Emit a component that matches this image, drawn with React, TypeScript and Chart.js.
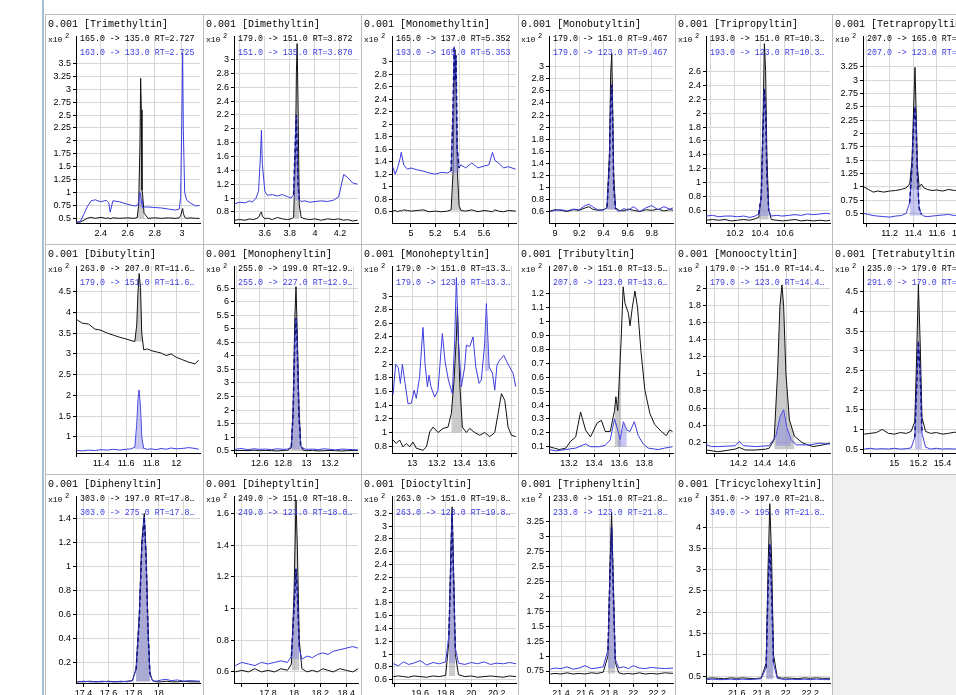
import React, { useEffect, useRef } from "react";
import { Chart, registerables } from "chart.js";
Chart.register(...registerables);

const MONO = '"Liberation Mono", "DejaVu Sans Mono", monospace';
const SANS = '"Liberation Sans", Arial, sans-serif';
const BLUE = "#3c3ce0";
const NAVY = "#14147a";
const BLACK = "#111111";
const GRID = "#d6d6d6";
const GRAY_FILL = "rgba(160,160,160,0.55)";
const BLUE_FILL = "rgba(130,130,225,0.45)";

// ---------- Panel 1: Trimethyltin ----------
const P1_X = [2.22, 2.25, 2.28, 2.30, 2.33, 2.36, 2.40, 2.44, 2.46, 2.47, 2.49, 2.54, 2.60, 2.65, 2.67, 2.68, 2.69, 2.695, 2.70, 2.705, 2.71, 2.72, 2.75, 2.80, 2.85, 2.90, 2.95, 2.98, 2.99, 3.00, 3.005, 3.01, 3.02, 3.035, 3.06, 3.10, 3.13];
const P1_BLACK = [0.42, 0.43, 0.47, 0.5, 0.52, 0.5, 0.52, 0.5, 0.51, 0.49, 0.51, 0.5, 0.51, 0.5, 0.52, 0.75, 1.9, 3.21, 2.6, 1.05, 0.95, 0.6, 0.5, 0.51, 0.5, 0.51, 0.5, 0.51, 0.55, 0.65, 0.69, 0.6, 0.52, 0.5, 0.51, 0.5, 0.5];
const P1_BLUE = [0.42, 0.44, 0.6, 0.72, 0.84, 0.86, 0.82, 0.85, 0.8, 0.62, 0.84, 0.82, 0.77, 0.74, 0.75, 0.8, 1.0, 0.95, 0.85, 0.78, 0.7, 0.72, 0.72, 0.71, 0.7, 0.68, 0.66, 0.68, 0.9, 2.6, 3.7, 2.2, 1.0, 0.85, 0.8, 0.74, 0.75];
const P1_XT = [2.4, 2.6, 2.8, 3];
const P1_XL = ["2.4", "2.6", "2.8", "3"];
const P1_YT = ["0.5", "0.75", "1", "1.25", "1.5", "1.75", "2", "2.25", "2.5", "2.75", "3", "3.25", "3.5"];

// ---------- Panel 2: Dimethyltin ----------
const P2_X = [3.36, 3.40, 3.44, 3.48, 3.50, 3.53, 3.55, 3.565, 3.573, 3.58, 3.60, 3.62, 3.66, 3.70, 3.74, 3.78, 3.81, 3.83, 3.845, 3.852, 3.858, 3.865, 3.875, 3.89, 3.92, 3.96, 4.00, 4.05, 4.10, 4.15, 4.19, 4.23, 4.26, 4.30, 4.34];
const P2_BLACK = [0.68, 0.69, 0.68, 0.7, 0.69, 0.7, 0.72, 0.78, 0.8, 0.74, 0.7, 0.71, 0.69, 0.72, 0.7, 0.69, 0.7, 0.72, 1.6, 2.8, 3.23, 2.4, 0.9, 0.72, 0.7, 0.69, 0.7, 0.68, 0.7, 0.69, 0.7, 0.68, 0.69, 0.67, 0.68];
const P2_BLUE = [0.92, 0.94, 0.93, 0.96, 0.94, 1.0, 1.1, 1.6, 1.98, 1.5, 1.1, 1.04, 1.05, 1.03, 1.05, 1.02, 1.0, 1.05, 1.9, 2.2, 1.7, 1.2, 0.98, 0.95, 0.96, 0.94, 0.95, 0.96, 0.95, 0.97, 1.02, 1.34, 1.3, 1.22, 1.2];
const P2_XT = [3.4, 3.6, 3.8, 4, 4.2];
const P2_XL = ["", "3.6", "3.8", "4", "4.2"];
const P2_YT = ["0.8", "1", "1.2", "1.4", "1.6", "1.8", "2", "2.2", "2.4", "2.6", "2.8", "3"];

// ---------- Panel 3: Monomethyltin ----------
const P3_X = [4.85, 4.87, 4.89, 4.91, 4.92, 4.94, 4.97, 5.00, 5.05, 5.10, 5.15, 5.20, 5.25, 5.30, 5.33, 5.345, 5.355, 5.362, 5.37, 5.38, 5.395, 5.41, 5.45, 5.50, 5.55, 5.60, 5.64, 5.67, 5.69, 5.72, 5.76, 5.80, 5.86];
const P3_BLACK = [0.61, 0.62, 0.6, 0.62, 0.61, 0.63, 0.62, 0.61, 0.62, 0.63, 0.6, 0.61, 0.6, 0.61, 0.63, 1.2, 2.6, 3.19, 2.5, 1.3, 0.7, 0.62, 0.61, 0.63, 0.6, 0.62, 0.61, 0.6, 0.63, 0.61, 0.6, 0.62, 0.61];
const P3_BLUE = [1.32, 1.2, 1.3, 1.45, 1.55, 1.35, 1.28, 1.3, 1.27, 1.25, 1.22, 1.2, 1.23, 1.22, 1.25, 2.2, 3.24, 2.7, 3.1, 1.6, 1.3, 1.35, 1.3, 1.38, 1.3, 1.33, 1.35, 1.55, 1.42, 1.38, 1.3, 1.32, 1.28];
const P3_XT = [5, 5.2, 5.4, 5.6, 5.8];
const P3_XL = ["5", "5.2", "5.4", "5.6", ""];
const P3_YT = ["0.6", "0.8", "1", "1.2", "1.4", "1.6", "1.8", "2", "2.2", "2.4", "2.6", "2.8", "3"];

// ---------- Panel 4: Monobutyltin ----------
const P4_X = [8.96, 9.0, 9.05, 9.1, 9.15, 9.2, 9.25, 9.28, 9.31, 9.35, 9.4, 9.43, 9.45, 9.46, 9.469, 9.475, 9.485, 9.5, 9.53, 9.57, 9.6, 9.65, 9.7, 9.75, 9.8, 9.85, 9.9, 9.95, 9.975];
const P4_BLACK = [0.61, 0.63, 0.62, 0.6, 0.63, 0.62, 0.66, 0.68, 0.64, 0.62, 0.63, 0.66, 1.6, 2.9, 3.22, 2.5, 1.2, 0.66, 0.62, 0.61, 0.64, 0.62, 0.6, 0.63, 0.62, 0.64, 0.61, 0.63, 0.62];
const P4_BLUE = [0.6, 0.62, 0.63, 0.61, 0.64, 0.63, 0.7, 0.72, 0.68, 0.63, 0.62, 0.68, 1.4, 2.4, 2.7, 2.2, 1.0, 0.64, 0.6, 0.65, 0.62, 0.68, 0.6, 0.66, 0.7, 0.63, 0.68, 0.64, 0.66];
const P4_XT = [9, 9.2, 9.4, 9.6, 9.8];
const P4_XL = ["9", "9.2", "9.4", "9.6", "9.8"];
const P4_YT = ["0.6", "0.8", "1", "1.2", "1.4", "1.6", "1.8", "2", "2.2", "2.4", "2.6", "2.8", "3"];

// ---------- Panel 5: Tripropyltin ----------
const P5_X = [9.97, 10.02, 10.07, 10.12, 10.17, 10.22, 10.27, 10.32, 10.36, 10.39, 10.41, 10.425, 10.435, 10.445, 10.455, 10.47, 10.49, 10.53, 10.58, 10.63, 10.68, 10.73, 10.78, 10.83, 10.88, 10.93, 10.96];
const P5_BLACK = [0.46, 0.47, 0.46, 0.47, 0.45, 0.46, 0.47, 0.46, 0.48, 0.5, 0.8, 2.0, 3.0, 2.6, 1.4, 0.6, 0.47, 0.46, 0.45, 0.46, 0.47, 0.45, 0.46, 0.45, 0.46, 0.45, 0.46];
const P5_BLUE = [0.52, 0.53, 0.51, 0.52, 0.52, 0.51, 0.52, 0.5, 0.52, 0.55, 0.8, 1.8, 2.35, 2.0, 1.1, 0.6, 0.52, 0.53, 0.52, 0.53, 0.54, 0.53, 0.55, 0.54, 0.55, 0.56, 0.55];
const P5_XT = [10, 10.2, 10.4, 10.6, 10.8];
const P5_XL = ["", "10.2", "10.4", "10.6", ""];
const P5_YT = ["0.6", "0.8", "1", "1.2", "1.4", "1.6", "1.8", "2", "2.2", "2.4", "2.6"];

// ---------- Panel 6: Tetrapropyltin ----------
const P6_X = [10.98, 11.02, 11.06, 11.1, 11.15, 11.2, 11.25, 11.3, 11.34, 11.37, 11.39, 11.405, 11.415, 11.425, 11.435, 11.45, 11.47, 11.49, 11.52, 11.56, 11.6, 11.65, 11.7, 11.75, 11.8, 11.9, 12.0];
const P6_BLACK = [1.0, 0.95, 0.9, 0.92, 0.9, 0.92, 0.93, 0.95, 0.98, 1.05, 1.5, 2.6, 3.24, 2.4, 1.4, 1.0, 1.05, 0.98, 0.95, 0.93, 0.94, 0.92, 0.95, 0.93, 0.94, 0.92, 0.93];
const P6_BLUE = [0.5, 0.48, 0.46, 0.45, 0.44, 0.43, 0.45, 0.46, 0.5, 0.7, 1.4, 2.2, 2.5, 2.1, 1.2, 0.6, 0.48, 0.45, 0.44, 0.45, 0.46, 0.47, 0.48, 0.46, 0.47, 0.46, 0.47];
const P6_XT = [11, 11.2, 11.4, 11.6, 11.8, 12];
const P6_XL = ["", "11.2", "11.4", "11.6", "11.8", "12"];
const P6_YT = ["0.5", "0.75", "1", "1.25", "1.5", "1.75", "2", "2.25", "2.5", "2.75", "3", "3.25"];

// ---------- Panel 7: Dibutyltin ----------
const P7_X = [11.21, 11.25, 11.3, 11.35, 11.4, 11.45, 11.5, 11.55, 11.6, 11.64, 11.67, 11.685, 11.695, 11.704, 11.715, 11.725, 11.74, 11.77, 11.8, 11.84, 11.88, 11.92, 11.96, 12.0, 12.05, 12.1, 12.15, 12.18];
const P7_BLACK = [3.82, 3.74, 3.72, 3.6, 3.57, 3.5, 3.45, 3.4, 3.36, 3.32, 3.3, 3.7, 4.5, 4.94, 4.6, 3.5, 3.1, 3.12, 3.08, 3.05, 3.02, 2.96, 3.0, 2.92, 2.86, 2.8, 2.76, 2.85];
const P7_BLUE = [0.67, 0.66, 0.68, 0.67, 0.69, 0.68, 0.7, 0.68, 0.7, 0.71, 0.75, 1.3, 1.9, 2.13, 1.7, 1.0, 0.72, 0.7, 0.71, 0.69, 0.72, 0.7, 0.73, 0.71, 0.72, 0.74, 0.72, 0.7];
const P7_XT = [11.2, 11.4, 11.6, 11.8, 12];
const P7_XL = ["", "11.4", "11.6", "11.8", "12"];
const P7_YT = ["1", "1.5", "2", "2.5", "3", "3.5", "4", "4.5"];

// ---------- Panel 8: Monophenyltin ----------
const P8_X = [12.39, 12.44, 12.5, 12.55, 12.6, 12.65, 12.7, 12.75, 12.8, 12.84, 12.87, 12.885, 12.9, 12.91, 12.92, 12.935, 12.95, 12.97, 13.0, 13.05, 13.1, 13.15, 13.2, 13.25, 13.3, 13.35, 13.4, 13.44];
const P8_BLACK = [0.5, 0.51, 0.5, 0.52, 0.5, 0.51, 0.5, 0.49, 0.51, 0.52, 0.6, 2.0, 5.4, 6.56, 5.0, 2.2, 0.7, 0.52, 0.5, 0.51, 0.49, 0.5, 0.51, 0.5, 0.49, 0.5, 0.51, 0.5];
const P8_BLUE = [0.55, 0.58, 0.54, 0.57, 0.55, 0.56, 0.54, 0.57, 0.55, 0.56, 0.65, 1.8, 4.6, 5.4, 4.4, 1.8, 0.7, 0.58, 0.55, 0.56, 0.54, 0.57, 0.55, 0.53, 0.56, 0.55, 0.54, 0.53];
const P8_XT = [12.4, 12.6, 12.8, 13, 13.2, 13.4];
const P8_XL = ["", "12.6", "12.8", "13", "13.2", ""];
const P8_YT = ["0.5", "1", "1.5", "2", "2.5", "3", "3.5", "4", "4.5", "5", "5.5", "6", "6.5"];

// ---------- Panel 9: Monoheptyltin ----------
const P9_BX = [12.843, 12.87, 12.897, 12.924, 12.951, 12.978, 13.005, 13.032, 13.086, 13.114, 13.141, 13.168, 13.208, 13.249, 13.289, 13.316, 13.338, 13.357, 13.365, 13.373, 13.384, 13.405, 13.438, 13.465, 13.505, 13.546, 13.586, 13.627, 13.668, 13.695, 13.722, 13.749, 13.776, 13.803, 13.838];
const P9_BLACK = [0.89, 0.84, 0.89, 0.79, 0.84, 0.79, 0.86, 0.77, 0.74, 0.79, 1.01, 1.08, 1.0, 1.06, 1.08, 1.28, 1.77, 2.4, 2.84, 2.4, 1.72, 1.08, 1.0, 1.06, 1.0, 0.96, 1.0, 0.94, 1.0, 1.28, 1.57, 1.47, 1.08, 0.96, 0.94];
const P9_UX = [12.843, 12.865, 12.886, 12.903, 12.919, 12.941, 12.965, 12.992, 13.014, 13.032, 13.059, 13.086, 13.103, 13.122, 13.135, 13.151, 13.181, 13.208, 13.243, 13.265, 13.292, 13.324, 13.343, 13.357, 13.373, 13.397, 13.424, 13.438, 13.465, 13.492, 13.514, 13.541, 13.559, 13.586, 13.6, 13.622, 13.649, 13.668, 13.686, 13.708, 13.741, 13.776, 13.816, 13.838];
const P9_BLUE = [1.55, 2.0, 1.95, 1.72, 2.0, 1.72, 1.42, 1.43, 1.62, 1.5, 1.82, 2.54, 2.0, 1.67, 1.84, 1.67, 1.52, 1.62, 2.45, 2.04, 1.77, 1.57, 2.35, 3.27, 2.35, 1.67, 1.96, 2.28, 2.26, 2.4, 1.96, 1.72, 1.77, 2.3, 2.89, 1.96, 1.87, 1.62, 1.99, 2.06, 2.13, 2.0, 1.87, 1.67];
const P9_XT = [13, 13.2, 13.4, 13.6, 13.8];
const P9_XL = ["13", "13.2", "13.4", "13.6", ""];
const P9_YT = ["0.8", "1", "1.2", "1.4", "1.6", "1.8", "2", "2.2", "2.4", "2.6", "2.8", "3"];

// ---------- Panel 10: Tributyltin ----------
const P10_BX = [13.042, 13.082, 13.121, 13.174, 13.213, 13.253, 13.292, 13.332, 13.371, 13.424, 13.458, 13.489, 13.529, 13.563, 13.574, 13.589, 13.616, 13.632, 13.647, 13.674, 13.687, 13.705, 13.726, 13.747, 13.774, 13.805, 13.845, 13.884, 13.937, 13.976, 14.003, 14.026];
const P10_BLACK = [0.1, 0.09, 0.08, 0.09, 0.14, 0.17, 0.35, 0.22, 0.17, 0.27, 0.29, 0.21, 0.21, 0.36, 0.46, 0.36, 0.87, 1.25, 1.13, 1.06, 0.97, 1.1, 1.22, 1.1, 0.79, 0.51, 0.34, 0.26, 0.21, 0.18, 0.22, 0.21];
const P10_UX = [13.042, 13.095, 13.174, 13.253, 13.305, 13.332, 13.371, 13.437, 13.489, 13.529, 13.563, 13.589, 13.608, 13.634, 13.661, 13.687, 13.721, 13.753, 13.792, 13.832, 13.911, 13.963, 14.026];
const P10_BLUE = [0.08, 0.07, 0.08, 0.09, 0.11, 0.12, 0.1, 0.1, 0.11, 0.15, 0.3, 0.22, 0.15, 0.28, 0.22, 0.21, 0.28, 0.18, 0.12, 0.09, 0.08, 0.09, 0.1];
const P10_XT = [13.2, 13.4, 13.6, 13.8, 14];
const P10_XL = ["13.2", "13.4", "13.6", "13.8", ""];
const P10_YT = ["0.1", "0.2", "0.3", "0.4", "0.5", "0.6", "0.7", "0.8", "0.9", "1", "1.1", "1.2"];

// ---------- Panel 11: Monooctyltin ----------
const P11_BX = [13.932, 14.031, 14.172, 14.206, 14.256, 14.341, 14.425, 14.454, 14.496, 14.524, 14.544, 14.561, 14.575, 14.594, 14.623, 14.665, 14.735, 14.82, 14.904, 14.96];
const P11_BLACK = [0.11, 0.09, 0.12, 0.14, 0.11, 0.11, 0.12, 0.13, 0.23, 1.0, 1.79, 2.04, 1.79, 1.0, 0.46, 0.27, 0.19, 0.15, 0.17, 0.19];
const P11_UX = [13.932, 13.975, 14.031, 14.172, 14.206, 14.242, 14.341, 14.454, 14.51, 14.546, 14.575, 14.6, 14.637, 14.679, 14.792, 14.876, 14.932, 14.96];
const P11_BLUE = [0.17, 0.15, 0.15, 0.16, 0.21, 0.16, 0.15, 0.16, 0.27, 0.5, 0.58, 0.38, 0.23, 0.17, 0.17, 0.19, 0.18, 0.18];
const P11_XT = [14, 14.2, 14.4, 14.6, 14.8];
const P11_XL = ["", "14.2", "14.4", "14.6", ""];
const P11_YT = ["0.2", "0.4", "0.6", "0.8", "1", "1.2", "1.4", "1.6", "1.8", "2"];

// ---------- Panel 12: Tetrabutyltin ----------
const P12_X = [14.75, 14.8, 14.85, 14.9, 14.95, 15.0, 15.05, 15.1, 15.14, 15.17, 15.185, 15.2, 15.215, 15.23, 15.26, 15.3, 15.35, 15.4, 15.45, 15.5, 15.55, 15.6, 15.65, 15.7, 15.77];
const P12_BLACK = [0.88, 0.9, 0.92, 1.0, 0.9, 0.88, 0.92, 0.9, 0.95, 1.2, 2.8, 4.7, 3.2, 1.3, 0.95, 0.9, 0.92, 0.88, 0.9, 0.93, 0.9, 0.88, 0.9, 0.92, 0.9];
const P12_BLUE = [0.5, 0.52, 0.5, 0.51, 0.5, 0.52, 0.5, 0.51, 0.53, 0.8, 2.0, 3.25, 2.4, 0.9, 0.55, 0.5, 0.52, 0.5, 0.51, 0.5, 0.52, 0.5, 0.51, 0.5, 0.5];
const P12_XT = [14.8, 15, 15.2, 15.4, 15.6];
const P12_XL = ["", "15", "15.2", "15.4", "15.6"];
const P12_YT = ["0.5", "1", "1.5", "2", "2.5", "3", "3.5", "4", "4.5"];

// ---------- Panel 13: Diphenyltin ----------
const P13_X = [17.35, 17.4, 17.45, 17.5, 17.55, 17.6, 17.65, 17.7, 17.75, 17.79, 17.82, 17.845, 17.865, 17.885, 17.9, 17.915, 17.93, 17.95, 17.98, 18.02, 18.06, 18.1, 18.15, 18.2, 18.25, 18.33];
const P13_BLACK = [0.04, 0.04, 0.045, 0.04, 0.04, 0.045, 0.04, 0.04, 0.045, 0.05, 0.15, 0.6, 1.2, 1.44, 1.1, 0.5, 0.12, 0.05, 0.04, 0.04, 0.045, 0.04, 0.04, 0.045, 0.04, 0.04];
const P13_BLUE = [0.04, 0.045, 0.04, 0.04, 0.045, 0.04, 0.04, 0.045, 0.04, 0.05, 0.14, 0.55, 1.15, 1.41, 1.05, 0.45, 0.1, 0.05, 0.045, 0.055, 0.06, 0.05, 0.055, 0.045, 0.05, 0.045];
const P13_XT = [17.4, 17.6, 17.8, 18, 18.2];
const P13_XL = ["17.4", "17.6", "17.8", "18", ""];
const P13_YT = ["0.2", "0.4", "0.6", "0.8", "1", "1.2", "1.4"];

// ---------- Panel 14: Diheptyltin ----------
const P14_X = [17.55, 17.6, 17.65, 17.7, 17.75, 17.8, 17.85, 17.9, 17.95, 17.98, 18.0, 18.015, 18.025, 18.04, 18.06, 18.1, 18.14, 18.18, 18.22, 18.26, 18.3, 18.35, 18.4, 18.45, 18.49];
const P14_BLACK = [0.6, 0.61, 0.6, 0.62, 0.6, 0.61, 0.6, 0.62, 0.61, 0.65, 1.1, 1.68, 1.4, 0.8, 0.62, 0.6, 0.61, 0.6, 0.62, 0.61, 0.6, 0.62, 0.61, 0.6, 0.62];
const P14_BLUE = [0.64, 0.66, 0.65, 0.64, 0.66, 0.65, 0.66, 0.67, 0.66, 0.7, 1.0, 1.25, 1.1, 0.75, 0.68, 0.7, 0.69, 0.71, 0.72, 0.71, 0.73, 0.74, 0.75, 0.76, 0.75];
const P14_XT = [17.6, 17.8, 18, 18.2, 18.4];
const P14_XL = ["", "17.8", "18", "18.2", "18.4"];
const P14_YT = ["0.6", "0.8", "1", "1.2", "1.4", "1.6"];

// ---------- Panel 15: Dioctyltin ----------
const P15_X = [19.39, 19.43, 19.47, 19.51, 19.55, 19.6, 19.65, 19.7, 19.75, 19.8, 19.825, 19.84, 19.85, 19.86, 19.875, 19.9, 19.95, 20.0, 20.05, 20.1, 20.15, 20.2, 20.25, 20.3, 20.35];
const P15_BLACK = [0.65, 0.66, 0.65, 0.64, 0.66, 0.65, 0.64, 0.66, 0.65, 0.67, 1.2, 2.6, 3.3, 2.5, 1.0, 0.68, 0.65, 0.66, 0.64, 0.65, 0.66, 0.65, 0.64, 0.66, 0.65];
const P15_BLUE = [0.85, 0.82, 0.88, 0.84, 0.86, 0.9, 0.83, 0.87, 0.85, 0.88, 1.3, 2.4, 3.2, 2.3, 1.1, 0.86, 0.84, 0.87, 0.85, 0.88, 0.84, 0.86, 0.85, 0.87, 0.85];
const P15_XT = [19.4, 19.6, 19.8, 20, 20.2];
const P15_XL = ["", "19.6", "19.8", "20", "20.2"];
const P15_YT = ["0.6", "0.8", "1", "1.2", "1.4", "1.6", "1.8", "2", "2.2", "2.4", "2.6", "2.8", "3", "3.2"];

// ---------- Panel 16: Triphenyltin ----------
const P16_X = [21.31, 21.35, 21.4, 21.45, 21.5, 21.55, 21.6, 21.65, 21.7, 21.75, 21.79, 21.805, 21.82, 21.835, 21.85, 21.88, 21.92, 21.96, 22.0, 22.05, 22.1, 22.15, 22.2, 22.26, 22.33];
const P16_BLACK = [0.7, 0.71, 0.7, 0.72, 0.7, 0.71, 0.7, 0.72, 0.71, 0.73, 1.0, 2.4, 3.4, 2.2, 0.9, 0.72, 0.7, 0.71, 0.7, 0.72, 0.7, 0.71, 0.7, 0.72, 0.71];
const P16_BLUE = [0.78, 0.8, 0.79, 0.82, 0.78, 0.8, 0.84, 0.79, 0.8, 0.82, 1.1, 2.2, 3.15, 2.0, 0.95, 0.8, 0.82, 0.79, 0.84, 0.8, 0.79, 0.81, 0.8, 0.79, 0.8];
const P16_XT = [21.4, 21.6, 21.8, 22, 22.2];
const P16_XL = ["21.4", "21.6", "21.8", "22", "22.2"];
const P16_YT = ["0.75", "1", "1.25", "1.5", "1.75", "2", "2.25", "2.5", "2.75", "3", "3.25"];

// ---------- Panel 17: Tricyclohexyltin ----------
const P17_X = [21.36, 21.4, 21.45, 21.5, 21.55, 21.6, 21.65, 21.7, 21.75, 21.8, 21.84, 21.855, 21.87, 21.885, 21.9, 21.93, 21.97, 22.0, 22.05, 22.1, 22.15, 22.2, 22.25, 22.3, 22.36];
const P17_BLACK = [0.45, 0.46, 0.45, 0.44, 0.46, 0.45, 0.46, 0.45, 0.44, 0.46, 0.8, 3.0, 4.55, 3.2, 1.0, 0.48, 0.45, 0.46, 0.45, 0.44, 0.46, 0.45, 0.46, 0.45, 0.45];
const P17_BLUE = [0.42, 0.43, 0.42, 0.42, 0.43, 0.42, 0.43, 0.42, 0.43, 0.44, 0.7, 2.5, 3.6, 2.4, 0.8, 0.45, 0.43, 0.42, 0.43, 0.42, 0.43, 0.42, 0.43, 0.42, 0.42];
const P17_XT = [21.4, 21.6, 21.8, 22, 22.2];
const P17_XL = ["", "21.6", "21.8", "22", "22.2"];
const P17_YT = ["0.5", "1", "1.5", "2", "2.5", "3", "3.5", "4"];

type PanelDef = {
  title: string; ion1: string; ion2: string;
  bx: number[]; by: number[]; ux: number[]; uy: number[];
  xr: number[]; yr: number[];
  xt: number[]; xl: string[]; yt: string[];
  bf: number[]; uf: number[];
};

const PANELS: PanelDef[] = [
  { title: "Trimethyltin", ion1: "165.0 -> 135.0 RT=2.727", ion2: "163.0 -> 133.0 RT=2.725", bx: P1_X, by: P1_BLACK, ux: P1_X, uy: P1_BLUE, xr: [2.218, 3.133], yr: [0.41, 4.03], xt: P1_XT, xl: P1_XL, yt: P1_YT, bf: [2.67, 2.72, 0.5], uf: [2.68, 2.71, 0.72, 0] },
  { title: "Dimethyltin", ion1: "179.0 -> 151.0 RT=3.872", ion2: "151.0 -> 135.0 RT=3.870", bx: P2_X, by: P2_BLACK, ux: P2_X, uy: P2_BLUE, xr: [3.354, 4.344], yr: [0.64, 3.34], xt: P2_XT, xl: P2_XL, yt: P2_YT, bf: [3.83, 3.875, 0.7], uf: [3.83, 3.875, 0.97, 1] },
  { title: "Monomethyltin", ion1: "165.0 -> 137.0 RT=5.352", ion2: "193.0 -> 165.0 RT=5.353", bx: P3_X, by: P3_BLACK, ux: P3_X, uy: P3_BLUE, xr: [4.844, 5.863], yr: [0.42, 3.41], xt: P3_XT, xl: P3_XL, yt: P3_YT, bf: [5.33, 5.41, 0.62], uf: [5.33, 5.395, 1.22, 1] },
  { title: "Monobutyltin", ion1: "179.0 -> 151.0 RT=9.467", ion2: "179.0 -> 123.0 RT=9.467", bx: P4_X, by: P4_BLACK, ux: P4_X, uy: P4_BLUE, xr: [8.95, 9.975], yr: [0.41, 3.51], xt: P4_XT, xl: P4_XL, yt: P4_YT, bf: [9.43, 9.5, 0.63], uf: [9.43, 9.5, 0.64, 1] },
  { title: "Tripropyltin", ion1: "193.0 -> 151.0 RT=10.3\u2026", ion2: "193.0 -> 123.0 RT=10.3\u2026", bx: P5_X, by: P5_BLACK, ux: P5_X, uy: P5_BLUE, xr: [9.968, 10.96], yr: [0.42, 3.11], xt: P5_XT, xl: P5_XL, yt: P5_YT, bf: [10.39, 10.47, 0.47], uf: [10.39, 10.47, 0.52, 1] },
  { title: "Tetrapropyltin", ion1: "207.0 -> 165.0 RT=11.4\u2026", ion2: "207.0 -> 123.0 RT=11.4\u2026", bx: P6_X, by: P6_BLACK, ux: P6_X, uy: P6_BLUE, xr: [10.974, 12.01], yr: [0.32, 3.83], xt: P6_XT, xl: P6_XL, yt: P6_YT, bf: [11.37, 11.47, 0.95], uf: [11.37, 11.47, 0.46, 1] },
  { title: "Dibutyltin", ion1: "263.0 -> 207.0 RT=11.6\u2026", ion2: "179.0 -> 151.0 RT=11.6\u2026", bx: P7_X, by: P7_BLACK, ux: P7_X, uy: P7_BLUE, xr: [11.2, 12.19], yr: [0.61, 5.12], xt: P7_XT, xl: P7_XL, yt: P7_YT, bf: [11.67, 11.74, 3.3], uf: [11.67, 11.74, 0.7, 0] },
  { title: "Monophenyltin", ion1: "255.0 -> 199.0 RT=12.9\u2026", ion2: "255.0 -> 227.0 RT=12.9\u2026", bx: P8_X, by: P8_BLACK, ux: P8_X, uy: P8_BLUE, xr: [12.38, 13.44], yr: [0.415, 7.32], xt: P8_XT, xl: P8_XL, yt: P8_YT, bf: [12.87, 12.97, 0.5], uf: [12.87, 12.97, 0.55, 1] },
  { title: "Monoheptyltin", ion1: "179.0 -> 151.0 RT=13.3\u2026", ion2: "179.0 -> 123.0 RT=13.3\u2026", bx: P9_BX, by: P9_BLACK, ux: P9_UX, uy: P9_BLUE, xr: [12.835, 13.84], yr: [0.7, 3.44], xt: P9_XT, xl: P9_XL, yt: P9_YT, bf: [13.316, 13.405, 1.0], uf: [13.586, 13.622, 1.9, 0] },
  { title: "Tributyltin", ion1: "207.0 -> 151.0 RT=13.5\u2026", ion2: "207.0 -> 123.0 RT=13.6\u2026", bx: P10_BX, by: P10_BLACK, ux: P10_UX, uy: P10_BLUE, xr: [13.04, 14.03], yr: [0.055, 1.4], xt: P10_XT, xl: P10_XL, yt: P10_YT, bf: [13.563, 13.616, 0.1], uf: [13.589, 13.661, 0.1, 0] },
  { title: "Monooctyltin", ion1: "179.0 -> 151.0 RT=14.4\u2026", ion2: "179.0 -> 123.0 RT=14.4\u2026", bx: P11_BX, by: P11_BLACK, ux: P11_UX, uy: P11_BLUE, xr: [13.93, 14.96], yr: [0.075, 2.26], xt: P11_XT, xl: P11_XL, yt: P11_YT, bf: [14.496, 14.665, 0.12], uf: [14.51, 14.637, 0.16, 0] },
  { title: "Tetrabutyltin", ion1: "235.0 -> 179.0 RT=15.2\u2026", ion2: "291.0 -> 179.0 RT=15.2\u2026", bx: P12_X, by: P12_BLACK, ux: P12_X, uy: P12_BLUE, xr: [14.74, 15.77], yr: [0.4, 5.16], xt: P12_XT, xl: P12_XL, yt: P12_YT, bf: [15.17, 15.23, 0.9], uf: [15.17, 15.23, 0.5, 1] },
  { title: "Diphenyltin", ion1: "303.0 -> 197.0 RT=17.8\u2026", ion2: "303.0 -> 275.0 RT=17.8\u2026", bx: P13_X, by: P13_BLACK, ux: P13_X, uy: P13_BLUE, xr: [17.34, 18.33], yr: [0.03, 1.585], xt: P13_XT, xl: P13_XL, yt: P13_YT, bf: [17.82, 17.93, 0.04], uf: [17.82, 17.93, 0.045, 1] },
  { title: "Diheptyltin", ion1: "249.0 -> 151.0 RT=18.0\u2026", ion2: "249.0 -> 123.0 RT=18.0\u2026", bx: P14_X, by: P14_BLACK, ux: P14_X, uy: P14_BLUE, xr: [17.54, 18.49], yr: [0.53, 1.71], xt: P14_XT, xl: P14_XL, yt: P14_YT, bf: [17.98, 18.04, 0.61], uf: [17.98, 18.04, 0.68, 1] },
  { title: "Dioctyltin", ion1: "263.0 -> 151.0 RT=19.8\u2026", ion2: "263.0 -> 123.0 RT=19.8\u2026", bx: P15_X, by: P15_BLACK, ux: P15_X, uy: P15_BLUE, xr: [19.38, 20.35], yr: [0.55, 3.47], xt: P15_XT, xl: P15_XL, yt: P15_YT, bf: [19.825, 19.875, 0.66], uf: [19.825, 19.875, 0.86, 1] },
  { title: "Triphenyltin", ion1: "233.0 -> 151.0 RT=21.8\u2026", ion2: "233.0 -> 123.0 RT=21.8\u2026", bx: P16_X, by: P16_BLACK, ux: P16_X, uy: P16_BLUE, xr: [21.3, 22.33], yr: [0.55, 3.67], xt: P16_XT, xl: P16_XL, yt: P16_YT, bf: [21.79, 21.85, 0.71], uf: [21.79, 21.85, 0.8, 1] },
  { title: "Tricyclohexyltin", ion1: "351.0 -> 197.0 RT=21.8\u2026", ion2: "349.0 -> 195.0 RT=21.8\u2026", bx: P17_X, by: P17_BLACK, ux: P17_X, uy: P17_BLUE, xr: [21.35, 22.36], yr: [0.34, 4.73], xt: P17_XT, xl: P17_XL, yt: P17_YT, bf: [21.84, 21.9, 0.45], uf: [21.84, 21.9, 0.43, 1] },
];

const COL_X = [45, 203, 361, 518, 675, 832];
const ROW_Y = [14, 244, 474];
const PW = 158;
const PH = 230;

function ChartPanel({ p, left, top }: { p: PanelDef; left: number; top: number }) {
  const ref = useRef<HTMLCanvasElement>(null);
  useEffect(() => {
    const canvas = ref.current;
    if (!canvas) return;
    const pts = (xs: number[], ys: number[]) => xs.map((x, i) => ({ x, y: ys[i] }));
    const seg = (xs: number[], ys: number[], r: number[]) => pts(xs, ys).filter((q) => q.x >= r[0] && q.x <= r[1]);
    const tickFont = { family: SANS, size: 9 };
    const chart = new Chart(canvas, {
      type: "line",
      data: {
        datasets: [
          { data: seg(p.ux, p.uy, p.uf), borderColor: p.uf[3] ? NAVY : "rgba(0,0,0,0)", borderDash: [4, 3], borderWidth: p.uf[3] ? 1.5 : 0, backgroundColor: BLUE_FILL, fill: { value: p.uf[2] }, pointRadius: 0, order: 0 },
          { data: pts(p.ux, p.uy), borderColor: BLUE, borderWidth: 1, pointRadius: 0, fill: false, order: 1 },
          { data: pts(p.bx, p.by), borderColor: BLACK, borderWidth: 1, pointRadius: 0, fill: false, order: 3 },
          { data: seg(p.bx, p.by, p.bf), borderColor: "rgba(0,0,0,0)", borderWidth: 0, backgroundColor: GRAY_FILL, fill: { value: p.bf[2] }, pointRadius: 0, order: 4 },
        ],
      } as any,
      options: {
        animation: false,
        responsive: false,
        devicePixelRatio: 1,
        events: [],
        layout: { padding: { top: 22, right: 3, left: 0, bottom: 0 }, autoPadding: false },
        plugins: { legend: { display: false }, tooltip: { enabled: false } },
        elements: { line: { tension: 0 }, point: { radius: 0 } },
        scales: {
          x: {
            type: "linear",
            min: p.xr[0],
            max: p.xr[1],
            afterBuildTicks: (s: any) => { s.ticks = p.xt.map((v) => ({ value: v })); },
            afterFit: (s: any) => { s.height = 21; },
            ticks: { autoSkip: false, maxRotation: 0, minRotation: 0, font: tickFont, color: "#000", padding: 1, callback: (_v: any, i: number) => p.xl[i] },
            grid: { color: GRID, tickColor: "#000", tickLength: 4 },
            border: { color: "#000", width: 1 },
          },
          y: {
            type: "linear",
            min: p.yr[0],
            max: p.yr[1],
            afterBuildTicks: (s: any) => { s.ticks = p.yt.map((v) => ({ value: parseFloat(v) })); },
            afterFit: (s: any) => { s.width = 31; },
            ticks: { autoSkip: false, font: tickFont, color: "#000", padding: 2, callback: (_v: any, i: number) => p.yt[i] },
            grid: { color: GRID, tickColor: "#000", tickLength: 3 },
            border: { color: "#000", width: 1 },
          },
        },
      } as any,
    });
    return () => chart.destroy();
  }, [p]);
  return (
    <canvas
      ref={ref}
      width={PW}
      height={PH}
      style={{ position: "absolute", left, top, width: PW, height: PH }}
    />
  );
}

const txt = (extra: React.CSSProperties): React.CSSProperties => ({
  position: "absolute",
  whiteSpace: "nowrap",
  lineHeight: 1,
  fontFamily: MONO,
  ...extra,
});

export default function App() {
  return (
    <div style={{ position: "absolute", left: 0, top: 0, width: 956, height: 695, overflow: "hidden", background: "#ffffff" }}>
      <div style={{ position: "absolute", left: 42, top: 0, width: 2, height: 695, background: "#a9bdd4" }} />
      {PANELS.map((p, i) => {
        const L = COL_X[i % 6];
        const T = ROW_Y[Math.floor(i / 6)];
        return (
          <div key={"b" + i} style={{ position: "absolute", left: L, top: T, width: PW, height: PH, boxSizing: "border-box", borderLeft: "1px solid #bdbdbd", borderTop: "1px solid #bdbdbd", background: "#fff" }} />
        );
      })}
      <div style={{ position: "absolute", left: 832, top: 474, width: 124, height: 221, boxSizing: "border-box", borderLeft: "1px solid #bdbdbd", borderTop: "1px solid #bdbdbd", background: "#f0f0f0" }} />
      {PANELS.map((p, i) => {
        const L = COL_X[i % 6];
        const T = ROW_Y[Math.floor(i / 6)];
        return <ChartPanel key={"c" + i} p={p} left={L} top={T} />;
      })}
      {PANELS.map((p, i) => {
        const L = COL_X[i % 6];
        const T = ROW_Y[Math.floor(i / 6)];
        return (
          <React.Fragment key={"t" + i}>
            <div style={txt({ left: L + 3, top: T + 6, fontSize: 10, color: "#000" })}>{"0.001 [" + p.title + "]"}</div>
            <div style={txt({ left: L + 3, top: T + 22, fontSize: 8, color: "#000" })}>x10</div>
            <div style={txt({ left: L + 20, top: T + 19, fontSize: 7, color: "#000" })}>2</div>
            <div style={txt({ left: L + 35, top: T + 21, fontSize: 8.3, color: "#000" })}>{p.ion1}</div>
            <div style={txt({ left: L + 35, top: T + 35, fontSize: 8.3, color: BLUE })}>{p.ion2}</div>
          </React.Fragment>
        );
      })}
    </div>
  );
}
